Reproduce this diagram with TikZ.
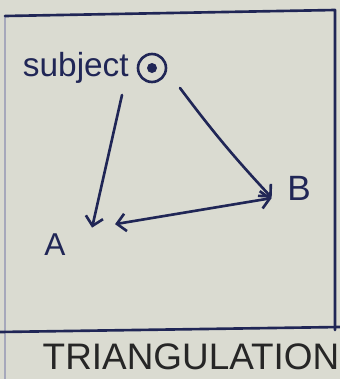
\documentclass[tikz,border=0pt]{standalone}
\usepackage{fontspec}
\setmainfont{Liberation Sans}
\usetikzlibrary{arrows.meta,positioning}
\definecolor{sketchink}{RGB}{32,38,86}
\definecolor{sketchpaper}{RGB}{218,219,209}
\tikzset{
 inkline/.style={sketchink,line width=1.5pt},
 corner/.style={inner sep=0pt,minimum size=0pt},
 handlabel/.style={sketchink,font=\fontsize{18}{18}\selectfont},
}
\begin{document}
\begin{tikzpicture}[x=0.02cm,y=-0.02cm,>={Straight Barb[length=5pt,width=10pt]},line cap=round,line join=round]
 \fill[sketchpaper] (0,0) rectangle (340,379);
 \useasboundingbox (0,0) rectangle (340,379);
 % frame of the page
 \draw[sketchink!40,line width=1pt] (5,16)--(5,379);
 \draw[inkline] (5,16)--(335,10)--(335,330);
 \draw[inkline] (0,332)--(340,327);
 % subject and the two stations
 \node[circle,draw,inkline,minimum size=0.56cm,inner sep=0pt] (subject) at (152,68) {};
 \fill[sketchink] (subject.center) circle (0.1cm);
 \node[handlabel,font=\fontsize{19}{19}\selectfont,left=1pt of subject] (subjlabel) {subject};
 \node[corner] (A) at (92,228) {};
 \node[corner] (B) at (272,198) {};
 \node[handlabel] (Alabel) at (55,245) {A};
 \node[handlabel,font=\fontsize{20}{20}\selectfont,right=5pt of B,yshift=0.2cm] (Blabel) {B};
 \coordinate (sa) at (122,95);
 \coordinate (sb) at (180,88);
 \draw[inkline,->] (sa)--(A);
 \draw[inkline,->] (sb) to[bend right=3] (B);
 \draw[inkline,<->,shorten <=0.46cm] (A)--(B);
 % caption
 \node[font=\fontsize{21}{21}\selectfont,black!85] (caption) at (191,357) {TRIANGULATION};
\end{tikzpicture}
\end{document}
